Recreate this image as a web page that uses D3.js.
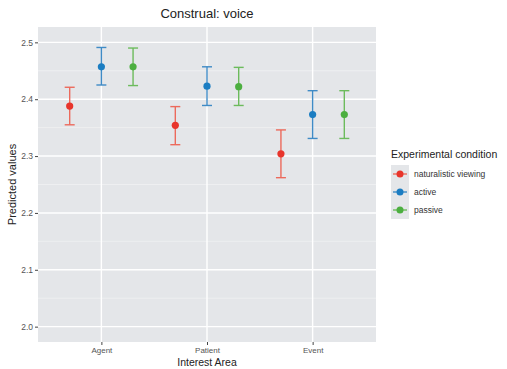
<!DOCTYPE html>
<html>
<head>
<meta charset="utf-8">
<script src="https://cdn.jsdelivr.net/npm/d3@7"></script>
<style>
  body { margin: 0; background: #fff; }
  text { font-family: "Liberation Sans", Arial, sans-serif; }
</style>
</head>
<body>
<div id="chart"></div>
<script>
'use strict';

var areas = [ 'Agent', 'Patient', 'Event' ];
var conditions = [ 'naturalistic viewing', 'active', 'passive' ];
var yTicks = [ 2.0, 2.1, 2.2, 2.3, 2.4, 2.5 ];

// predicted values per condition, in order of areas
var fitValues = {
  'naturalistic viewing': [ 2.388, 2.354, 2.304 ],
  'active':               [ 2.457, 2.423, 2.373 ],
  'passive':              [ 2.457, 2.422, 2.373 ]
};
var lowerValues = {
  'naturalistic viewing': [ 2.355, 2.320, 2.262 ],
  'active':               [ 2.425, 2.389, 2.331 ],
  'passive':              [ 2.424, 2.389, 2.331 ]
};
var upperValues = {
  'naturalistic viewing': [ 2.421, 2.387, 2.346 ],
  'active':               [ 2.491, 2.457, 2.415 ],
  'passive':              [ 2.490, 2.456, 2.415 ]
};

var pointColors = { 'naturalistic viewing': '#e8352c', 'active': '#1b7dc2', 'passive': '#4caf40' };
var barColors   = { 'naturalistic viewing': '#ec6a5c', 'active': '#3f8bc6', 'passive': '#6cbb5c' };

var rows = [];
conditions.forEach( function( c, ci ) {
  areas.forEach( function( a, ai ) {
    rows.push( { area: a, cond: c, ci: ci, y: fitValues[c][ai], lo: lowerValues[c][ai], hi: upperValues[c][ai] } );
  } );
} );

var W = 507, H = 369;
var margin = { top: 27, left: 38, right: 131, bottom: 27 };
var width = W - margin.left - margin.right,
    height = H - margin.top - margin.bottom;

var svg = d3.select( '#chart' ).append( 'svg' )
    .attr( 'width', W ).attr( 'height', H );

var g = svg.append( 'g' )
    .attr( 'transform', 'translate(' + margin.left + ',' + margin.top + ')' );

// discrete x like ggplot: 0.6 unit expansion each side
var x = d3.scalePoint().domain( areas ).range( [ 0, width ] ).padding( 0.6 );
var step = x.step();
var dodge = d3.scalePoint().domain( conditions ).range( [ -0.3 * step, 0.3 * step ] );

var y = d3.scaleLinear().domain( [ 1.973, 2.527 ] ).range( [ height, 0 ] );

g.append( 'rect' )
    .attr( 'width', width ).attr( 'height', height )
    .attr( 'fill', '#e4e6e9' );

// minor grid
var minor = d3.range( 2.05, 2.5, 0.1 );
g.selectAll( '.minor' ).data( minor ).enter().append( 'line' )
    .attr( 'x1', 0 ).attr( 'x2', width )
    .attr( 'y1', function( d ) { return y( d ); } )
    .attr( 'y2', function( d ) { return y( d ); } )
    .attr( 'stroke', '#f0f1f3' ).attr( 'stroke-width', 0.8 );

// major grid
g.selectAll( '.major' ).data( yTicks ).enter().append( 'line' )
    .attr( 'x1', 0 ).attr( 'x2', width )
    .attr( 'y1', function( d ) { return y( d ); } )
    .attr( 'y2', function( d ) { return y( d ); } )
    .attr( 'stroke', '#ffffff' ).attr( 'stroke-width', 1.4 );

g.selectAll( '.vgrid' ).data( areas ).enter().append( 'line' )
    .attr( 'x1', function( d ) { return x( d ); } )
    .attr( 'x2', function( d ) { return x( d ); } )
    .attr( 'y1', 0 ).attr( 'y2', height )
    .attr( 'stroke', '#ffffff' ).attr( 'stroke-width', 1.4 );

// axes
var yAxis = g.append( 'g' )
    .call( d3.axisLeft( y ).tickValues( yTicks ).tickSize( 3 ).tickPadding( 2 ).tickFormat( d3.format( '.1f' ) ) );
var xAxis = g.append( 'g' )
    .attr( 'transform', 'translate(0,' + height + ')' )
    .call( d3.axisBottom( x ).tickSize( 3 ).tickPadding( 2 ) );

[ yAxis, xAxis ].forEach( function( ax ) {
  ax.select( '.domain' ).remove();
  ax.selectAll( 'line' ).attr( 'stroke', '#444' );
  ax.selectAll( 'text' )
      .attr( 'fill', '#555' )
      .style( 'font-size', '8.5px' );
} );
xAxis.selectAll( 'text' ).style( 'font-size', '8px' );

// error bars
var capW = 5;
var bars = g.selectAll( '.err' ).data( rows ).enter().append( 'g' )
    .attr( 'stroke', function( d ) { return barColors[d.cond]; } )
    .attr( 'stroke-width', 1.4 );

bars.append( 'line' )
    .attr( 'x1', function( d ) { return x( d.area ) + dodge( d.cond ); } )
    .attr( 'x2', function( d ) { return x( d.area ) + dodge( d.cond ); } )
    .attr( 'y1', function( d ) { return y( d.lo ); } )
    .attr( 'y2', function( d ) { return y( d.hi ); } );

[ 'lo', 'hi' ].forEach( function( k ) {
  bars.append( 'line' )
      .attr( 'x1', function( d ) { return x( d.area ) + dodge( d.cond ) - capW; } )
      .attr( 'x2', function( d ) { return x( d.area ) + dodge( d.cond ) + capW; } )
      .attr( 'y1', function( d ) { return y( d[k] ); } )
      .attr( 'y2', function( d ) { return y( d[k] ); } );
} );

g.selectAll( '.pt' ).data( rows ).enter().append( 'circle' )
    .attr( 'cx', function( d ) { return x( d.area ) + dodge( d.cond ); } )
    .attr( 'cy', function( d ) { return y( d.y ); } )
    .attr( 'r', 3.6 )
    .attr( 'fill', function( d ) { return pointColors[d.cond]; } );

// titles
svg.append( 'text' )
    .attr( 'x', margin.left + width / 2 ).attr( 'y', 18 )
    .attr( 'text-anchor', 'middle' )
    .style( 'font-size', '13px' ).attr( 'fill', '#222' )
    .text( 'Construal: voice' );

svg.append( 'text' )
    .attr( 'x', margin.left + width / 2 ).attr( 'y', 366 )
    .attr( 'text-anchor', 'middle' )
    .style( 'font-size', '10.5px' ).attr( 'fill', '#222' )
    .text( 'Interest Area' );

svg.append( 'text' )
    .attr( 'transform', 'translate(16,' + ( margin.top + height / 2 ) + ') rotate(-90)' )
    .attr( 'text-anchor', 'middle' )
    .style( 'font-size', '11px' ).attr( 'fill', '#222' )
    .text( 'Predicted values' );

// legend
var legend = svg.append( 'g' ).attr( 'transform', 'translate(391,0)' );
legend.append( 'text' )
    .attr( 'x', 0 ).attr( 'y', 158 )
    .style( 'font-size', '10.5px' ).attr( 'fill', '#222' )
    .text( 'Experimental condition' );

var items = legend.selectAll( '.item' ).data( conditions ).enter().append( 'g' )
    .attr( 'transform', function( d, i ) { return 'translate(0,' + ( 165 + i * 18 ) + ')'; } );

items.append( 'rect' )
    .attr( 'width', 18 ).attr( 'height', 18 )
    .attr( 'fill', '#e4e6e9' );
items.append( 'line' )
    .attr( 'x1', 2 ).attr( 'x2', 16 ).attr( 'y1', 9 ).attr( 'y2', 9 )
    .attr( 'stroke', function( d ) { return barColors[d]; } )
    .attr( 'stroke-width', 1.4 );
items.append( 'circle' )
    .attr( 'cx', 9 ).attr( 'cy', 9 ).attr( 'r', 3.5 )
    .attr( 'fill', function( d ) { return pointColors[d]; } );
items.append( 'text' )
    .attr( 'x', 23 ).attr( 'y', 12 )
    .style( 'font-size', '8.5px' ).attr( 'fill', '#333' )
    .text( function( d ) { return d; } );
</script>
</body>
</html>
